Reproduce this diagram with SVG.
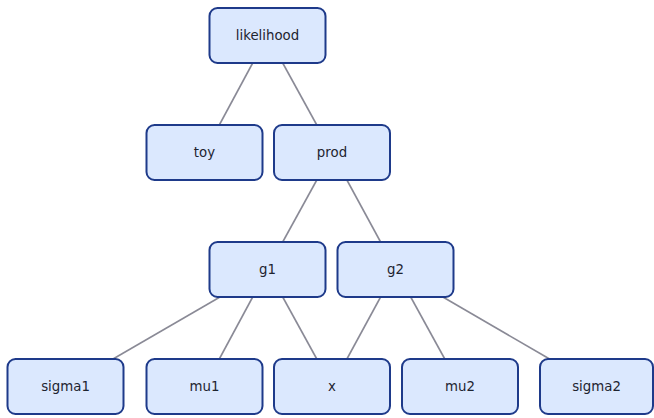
<svg xmlns="http://www.w3.org/2000/svg" width="654" height="418" viewBox="0 0 654 418">
<style>
.n rect{fill:#dbe8fe;stroke:#1e3a8a;stroke-width:2}
.n text{font-family:"DejaVu Sans",sans-serif;font-size:13.33px;fill:#1e2430;text-anchor:middle;dominant-baseline:central}
.e line{stroke:#8a8a96;stroke-width:1.6}
</style>
<rect width="654" height="418" fill="#ffffff"/>
<g id="edges" class="e">
<line x1="252.7" y1="63" x2="219.3" y2="125"/>
<line x1="282.7" y1="63" x2="316.8" y2="125"/>
<line x1="316.8" y1="180" x2="282.7" y2="242"/>
<line x1="346.9" y1="180" x2="380.6" y2="242"/>
<line x1="220" y1="297" x2="113" y2="359"/>
<line x1="252.7" y1="297" x2="219.3" y2="359"/>
<line x1="282.7" y1="297" x2="316.8" y2="359"/>
<line x1="380.6" y1="297" x2="346.9" y2="359"/>
<line x1="410.7" y1="297" x2="444.8" y2="359"/>
<line x1="442.9" y1="297" x2="549.6" y2="359"/>
</g>
<g id="likelihood" class="n"><rect x="209.5" y="8" width="116" height="55" rx="8"/><text x="267.5" y="35.5">likelihood</text></g>
<g id="toy" class="n"><rect x="146.5" y="125" width="116" height="55" rx="8"/><text x="204.5" y="152.5">toy</text></g>
<g id="prod" class="n"><rect x="274" y="125" width="116" height="55" rx="8"/><text x="332" y="152.5">prod</text></g>
<g id="g1" class="n"><rect x="209.5" y="242" width="116" height="55" rx="8"/><text x="267.5" y="269.5">g1</text></g>
<g id="g2" class="n"><rect x="337.5" y="242" width="116" height="55" rx="8"/><text x="395.5" y="269.5">g2</text></g>
<g id="sigma1" class="n"><rect x="7.5" y="359" width="116" height="55" rx="8"/><text x="65.5" y="386.5">sigma1</text></g>
<g id="mu1" class="n"><rect x="146.5" y="359" width="116" height="55" rx="8"/><text x="204.5" y="386.5">mu1</text></g>
<g id="x" class="n"><rect x="274" y="359" width="116" height="55" rx="8"/><text x="332" y="386.5">x</text></g>
<g id="mu2" class="n"><rect x="402" y="359" width="116" height="55" rx="8"/><text x="460" y="386.5">mu2</text></g>
<g id="sigma2" class="n"><rect x="540" y="359" width="113" height="55" rx="8"/><text x="596.5" y="386.5">sigma2</text></g>
</svg>
